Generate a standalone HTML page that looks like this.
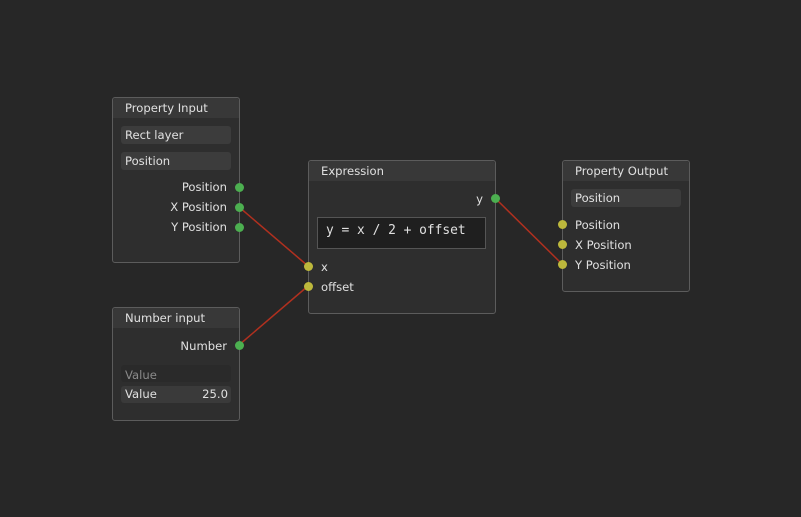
<!DOCTYPE html>
<html><head><style>
body{margin:0;width:801px;height:517px;background:#272727;position:relative;overflow:hidden;font-family:"DejaVu Sans","Liberation Sans",sans-serif;font-size:11.6px;color:#e0e0e0}
.n{position:absolute;background:#2e2e2e;border:1px solid #5c5c5c;border-radius:3px;box-sizing:border-box}
.h{position:absolute;left:0;right:0;top:0;height:20px;background:#383838;border-radius:3px 3px 0 0}
.t{position:absolute;white-space:nowrap;line-height:14px}
.f{position:absolute;background:#3c3c3c;border-radius:3px}
.r{text-align:right}
svg{position:absolute;left:0;top:0}
</style></head><body>
<div class="n" style="left:112px;top:97px;width:128px;height:166px"><div class="h"></div></div>
<div class="n" style="left:308px;top:160px;width:188px;height:154px"><div class="h"></div></div>
<div class="n" style="left:562px;top:160px;width:128px;height:132px"><div class="h"></div></div>
<div class="n" style="left:112px;top:307px;width:128px;height:114px"><div class="h"></div></div>

<div class="f" style="left:121px;top:126px;width:110px;height:18px"></div>
<div class="f" style="left:121px;top:152px;width:110px;height:18px"></div>
<div class="f" style="left:571px;top:189px;width:110px;height:18px"></div>
<div class="f" style="left:121px;top:365px;width:110px;height:17px;background:#2a2a2a"></div>
<div class="f" style="left:121px;top:386px;width:110px;height:17px;background:#3a3a3a"></div>
<div style="position:absolute;left:317px;top:217px;width:169px;height:32px;background:#1f1f1f;border:1px solid #555;box-sizing:border-box"></div>

<div class="t" style="left:125px;top:101px">Property Input</div>
<div class="t" style="left:125px;top:128px">Rect layer</div>
<div class="t" style="left:125px;top:154px">Position</div>
<div class="t r" style="right:574px;top:180px">Position</div>
<div class="t r" style="right:574px;top:200px">X Position</div>
<div class="t r" style="right:574px;top:220px">Y Position</div>

<div class="t" style="left:125px;top:311px">Number input</div>
<div class="t r" style="right:574px;top:339px">Number</div>
<div class="t" style="left:125px;top:368px;color:#8a8a8a">Value</div>
<div class="t" style="left:125px;top:387px">Value</div>
<div class="t r" style="right:573px;top:387px">25.0</div>

<div class="t" style="left:321px;top:164px">Expression</div>
<div class="t r" style="right:318px;top:192px">y</div>
<div class="t" style="left:326px;top:224px;font-family:'DejaVu Sans Mono','Liberation Mono',monospace;font-size:12.9px">y = x / 2 + offset</div>
<div class="t" style="left:321px;top:260px">x</div>
<div class="t" style="left:321px;top:280px">offset</div>

<div class="t" style="left:575px;top:164px">Property Output</div>
<div class="t" style="left:575px;top:191px">Position</div>
<div class="t" style="left:575px;top:218px">Position</div>
<div class="t" style="left:575px;top:238px">X Position</div>
<div class="t" style="left:575px;top:258px">Y Position</div>

<svg width="801" height="517">
<g stroke="#b0301f" stroke-width="1.5">
<line x1="239" y1="207" x2="308" y2="266"/>
<line x1="239" y1="345" x2="308" y2="286"/>
<line x1="495" y1="198" x2="562" y2="264"/>
</g>
<g fill="#4caf50">
<circle cx="239.5" cy="187.5" r="4.5"/><circle cx="239.5" cy="207.5" r="4.5"/><circle cx="239.5" cy="227.5" r="4.5"/>
<circle cx="239.5" cy="345.5" r="4.5"/><circle cx="495.5" cy="198.5" r="4.5"/>
</g>
<g fill="#bdb83c">
<circle cx="308.5" cy="266.5" r="4.5"/><circle cx="308.5" cy="286.5" r="4.5"/>
<circle cx="562.5" cy="224.5" r="4.5"/><circle cx="562.5" cy="244.5" r="4.5"/><circle cx="562.5" cy="264.5" r="4.5"/>
</g>
</svg>
</body></html>
